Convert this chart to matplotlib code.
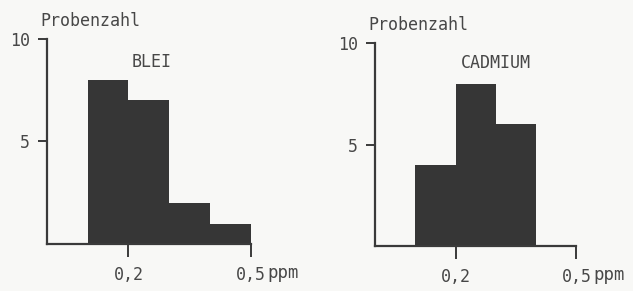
import matplotlib
matplotlib.use("Agg")
import matplotlib.pyplot as plt
import numpy as np

# Klassen (ppm) und Probenzahl
bin_left = [0.1, 0.2, 0.3, 0.4]
bin_width = 0.1
blei = [8, 7, 2, 1]
cadmium = [4, 8, 6, 0]

titles = ["BLEI", "CADMIUM"]
title_pos = [(0.258, 8.9), (0.30, 9.0)]
werte = [blei, cadmium]

plt.rcParams['font.family'] = ['DejaVu Sans Mono']
ink = '#3a3a3a'
txt = '#474747'
bg = '#f8f8f6'

fig = plt.figure(figsize=(6.33, 2.91), dpi=100, facecolor=bg)
boxes = [[0.0742, 0.1615, 0.354, 0.775], [0.5924, 0.1546, 0.350, 0.767]]

for i in range(2):
    ax = fig.add_axes(boxes[i])
    ax.set_facecolor(bg)
    ax.bar(bin_left, werte[i], width=bin_width, align='edge', color='#363636',
           linewidth=0)
    ax.set_xlim(0, 0.55)
    ax.set_ylim(0, 11)
    for s in ['top', 'right']:
        ax.spines[s].set_visible(False)
    ax.spines['left'].set_bounds(0, 10)
    ax.spines['bottom'].set_bounds(0, 0.5)
    for s in ['left', 'bottom']:
        ax.spines[s].set_color(ink)
        ax.spines[s].set_linewidth(1.6)

    ax.set_yticks([5, 10])
    ax.set_yticklabels(['5', '10'])
    ax.set_yticks([10], minor=True)
    ax.set_xticks([0.2, 0.5])
    ax.set_xticklabels(['0,2', '0,5'])
    ax.tick_params(axis='y', which='major', direction='out', length=6.5, width=1.4,
                   color=ink, labelcolor=txt, labelsize=12, pad=6)
    ax.tick_params(axis='y', which='minor', direction='in', length=4, width=1.4, color=ink)
    ax.tick_params(axis='x', which='major', direction='out', length=9, width=1.4,
                   color=ink, labelcolor=txt, labelsize=12, pad=7)
    if i == 1:
        ax.set_xticks([0.5], minor=True)
        ax.tick_params(axis='x', which='minor', direction='in', length=6, width=1.4, color=ink)

    ax.annotate('ppm', xy=(0.5, 0), xycoords=('data', 'axes fraction'),
                xytext=(12, -21), textcoords='offset points', ha='left', va='center',
                fontsize=12.5, color=txt)
    ax.annotate('Probenzahl', xy=(0, 10), xycoords='data', xytext=(-5, 13),
                textcoords='offset points', ha='left', va='center',
                fontsize=12, color=txt, annotation_clip=False)
    ax.text(title_pos[i][0], title_pos[i][1], titles[i], ha='center', va='center',
            fontsize=12, color=txt)

fig.savefig('out.png', dpi=100, facecolor=bg)
